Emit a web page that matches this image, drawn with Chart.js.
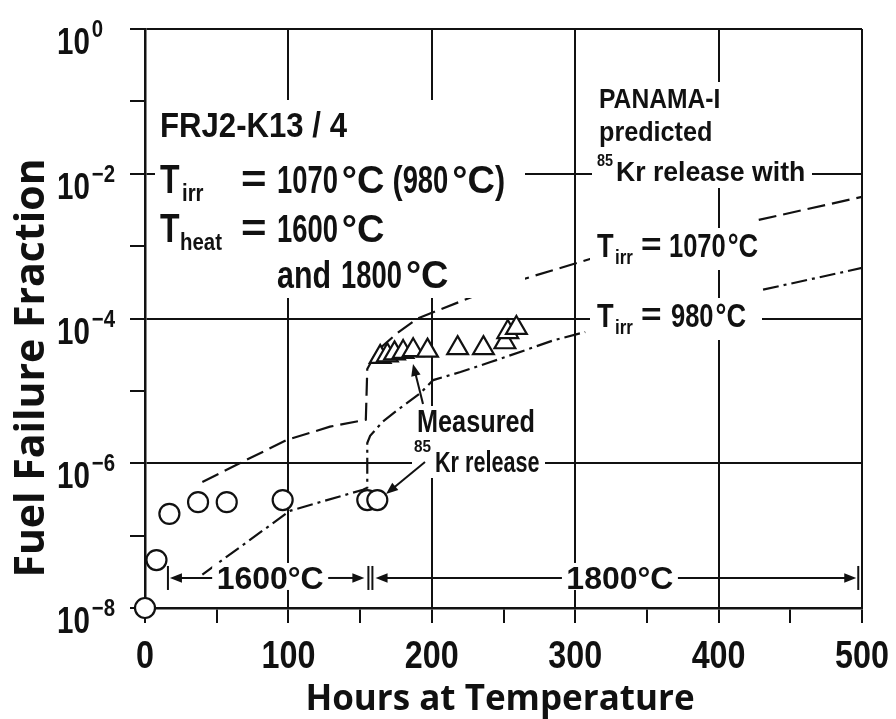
<!DOCTYPE html>
<html>
<head>
<meta charset="utf-8">
<title>FRJ2-K13/4 fuel failure fraction</title>
<script src="https://cdn.jsdelivr.net/npm/chart.js@4"></script>
<style>
  html, body { margin: 0; padding: 0; background: #fff; }
  canvas { display: block; }
</style>
</head>
<body>
<canvas id="chart" width="896" height="719"></canvas>
<script>
// measured 85Kr release (circles: 1600°C, triangles: 1800°C)
const circleHours = [0, 8, 17, 37, 57, 96, 155, 162];
const circleFrac  = [1.0e-8, 4.6e-8, 2.0e-7, 2.9e-7, 2.9e-7, 3.1e-7, 3.1e-7, 3.1e-7];
const triHours = [164, 169, 174, 180, 187, 197, 218, 236, 251, 253, 259];
const triFrac  = [2.95e-5, 3.1e-5, 3.3e-5, 3.45e-5, 3.65e-5, 3.6e-5, 3.9e-5, 3.9e-5, 4.7e-5, 6.5e-5, 7.4e-5];

// PANAMA-I predictions (null = break where the label sits)
const pred1070Hours = [40, 66, 99, 129, 154, 155, 162, 176, 190, 245, 312, 370, 428, 500];
const pred1070Frac  = [5.5e-7, 1.0e-6, 2.1e-6, 3.2e-6, 4.0e-6, 2.0e-5, 3.6e-5, 6.3e-5, 1.0e-4, 2.7e-4, 6.8e-4, null, 2.3e-3, 4.8e-3];
const pred980Hours = [40, 101, 152, 155, 155, 157, 166, 176, 192, 201, 220, 241, 266, 285, 307, 370, 431, 500];
const pred980Frac  = [2.9e-8, 2.2e-7, 4.3e-7, 4.6e-7, 1.9e-6, 2.4e-6, 3.8e-6, 5.4e-6, 9.3e-6, 1.41e-5, 1.82e-5, 2.5e-5, 3.7e-5, 5.0e-5, 6.5e-5, null, 2.5e-4, 5.0e-4];

// axes
const xTickLabels = [0, 100, 200, 300, 400, 500];
const yTickExps = [0, -1, -2, -3, -4, -5, -6, -7, -8];
const yLabelExps = [0, -2, -4, -6, -8];

// heating phases (hours)
const phase1600 = [16, 153];
const phase1800 = [158, 496];
const phaseLevel = 2.6e-8;

const INK = '#111';
const FONT = '"Liberation Sans", Arial, sans-serif';

function pts(xs, ys) {
    return xs.map((x, i) => ({ x: x, y: ys[i] }));
}

// draws bold text squeezed horizontally by sx, returns right edge
function put(ctx, s, x, y, size, sx, align) {
    ctx.save();
    ctx.font = 'bold ' + size + 'px ' + FONT;
    ctx.fillStyle = INK;
    ctx.textAlign = 'left';
    ctx.textBaseline = 'alphabetic';
    const w = ctx.measureText(s).width * sx;
    let x0 = x;
    if (align === 'center') x0 = x - w / 2;
    if (align === 'right') x0 = x - w;
    ctx.translate(x0, y);
    ctx.scale(sx, 1);
    ctx.fillText(s, 0, 0);
    ctx.restore();
    return x0 + w;
}

function temp(ctx, num, x, y, size, sxNum, sxDeg, gap) {
    const e = put(ctx, num, x, y, size, sxNum);
    return put(ctx, '°C', e + gap, y, size, sxDeg);
}

function blank(ctx, x1, y1, x2, y2) {
    ctx.fillStyle = '#fff';
    ctx.fillRect(x1, y1, x2 - x1, y2 - y1);
}

function arrow(ctx, x1, y1, x2, y2, head) {
    const a = Math.atan2(y2 - y1, x2 - x1);
    ctx.save();
    ctx.strokeStyle = INK;
    ctx.fillStyle = INK;
    ctx.lineWidth = 2;
    ctx.beginPath();
    ctx.moveTo(x1, y1);
    ctx.lineTo(x2 - Math.cos(a) * head * 0.8, y2 - Math.sin(a) * head * 0.8);
    ctx.stroke();
    ctx.beginPath();
    ctx.moveTo(x2, y2);
    ctx.lineTo(x2 - Math.cos(a) * head + Math.sin(a) * head * 0.4, y2 - Math.sin(a) * head - Math.cos(a) * head * 0.4);
    ctx.lineTo(x2 - Math.cos(a) * head - Math.sin(a) * head * 0.4, y2 - Math.sin(a) * head + Math.cos(a) * head * 0.4);
    ctx.closePath();
    ctx.fill();
    ctx.restore();
}

function vbar(ctx, x, y, h) {
    ctx.save();
    ctx.strokeStyle = INK;
    ctx.lineWidth = 2;
    ctx.beginPath();
    ctx.moveTo(x, y - h);
    ctx.lineTo(x, y + h);
    ctx.stroke();
    ctx.restore();
}

const paperPlugin = {
    id: 'paper',
    beforeDraw(chart) {
        const ctx = chart.ctx;
        ctx.save();
        ctx.fillStyle = '#fff';
        ctx.fillRect(0, 0, chart.width, chart.height);
        ctx.restore();
    },
    afterDatasetsDraw(chart) {
        const ctx = chart.ctx;
        const xs = chart.scales.x, ys = chart.scales.y;

        // tick labels
        xTickLabels.forEach(v => {
            put(ctx, String(v), xs.getPixelForValue(v), 668, 38, 0.85, 'center');
        });
        yLabelExps.forEach(e => {
            const py = ys.getPixelForValue(Math.pow(10, e));
            const end = put(ctx, '10', 57, py + 25, 36, 0.82);
            put(ctx, e === 0 ? '0' : '\u2212' + (-e), end + 2, py + 8, 24, 0.85);
        });

        // axis titles
        ctx.save();
        ctx.fillStyle = INK;
        ctx.font = 'bold 35px "Open Sans", sans-serif';
        ctx.textAlign = 'center';
        ctx.fillText('Hours at Temperature', 500, 710);
        ctx.translate(44, 368);
        ctx.rotate(-Math.PI / 2);
        ctx.font = 'bold 41px "Open Sans", sans-serif';
        ctx.fillText('Fuel Failure Fraction', 0, 0);
        ctx.restore();

        // sample / conditions block
        blank(ctx, 155, 100, 525, 298);
        put(ctx, 'FRJ2-K13 / 4', 160, 137, 35, 0.89);
        put(ctx, 'T', 160, 193, 40, 0.8);
        put(ctx, 'irr', 182, 201, 24, 0.85);
        put(ctx, '=', 241, 192, 38, 1.15);
        let e = temp(ctx, '1070', 277, 193, 38, 0.72, 1.0, 4);
        e = put(ctx, '(', e + 8, 193, 38, 0.8);
        e = temp(ctx, '980', e, 193, 38, 0.72, 1.0, 4);
        put(ctx, ')', e, 193, 38, 0.8);
        put(ctx, 'T', 160, 242, 40, 0.8);
        put(ctx, 'heat', 180, 250, 24, 0.85);
        put(ctx, '=', 241, 241, 38, 1.15);
        temp(ctx, '1600', 277, 242, 38, 0.72, 1.0, 4);
        e = put(ctx, 'and', 277, 288, 38, 0.8);
        temp(ctx, '1800', e + 10, 288, 38, 0.72, 1.0, 4);

        // PANAMA-I block
        blank(ctx, 592, 82, 812, 188);
        put(ctx, 'PANAMA-I', 599, 108, 28, 0.88);
        put(ctx, 'predicted', 599, 141, 28, 0.9);
        put(ctx, '85', 597, 166, 16, 0.9);
        put(ctx, 'Kr release with', 616, 181, 28, 0.95);

        // curve labels
        blank(ctx, 590, 228, 766, 270);
        put(ctx, 'T', 597, 257, 34, 0.8);
        put(ctx, 'irr', 615, 264, 20, 0.85);
        put(ctx, '=', 641, 255, 32, 1.1);
        temp(ctx, '1070', 669, 257, 34, 0.75, 0.8, 2);
        blank(ctx, 590, 298, 762, 340);
        put(ctx, 'T', 597, 327, 34, 0.8);
        put(ctx, 'irr', 615, 334, 20, 0.85);
        put(ctx, '=', 641, 325, 32, 1.1);
        temp(ctx, '980', 671, 327, 34, 0.75, 0.8, 2);

        // measured label + arrows
        blank(ctx, 412, 406, 545, 478);
        put(ctx, 'Measured', 417, 432, 32, 0.79);
        put(ctx, '85', 414, 452, 17, 0.9);
        put(ctx, 'Kr release', 435, 472, 30, 0.72);
        arrow(ctx, 423, 404, 413, 364, 12);
        arrow(ctx, 425, 462, 386, 494, 12);

        // heating phase spans
        const py = ys.getPixelForValue(phaseLevel);
        const a0 = xs.getPixelForValue(phase1600[0]);
        const a1 = xs.getPixelForValue(phase1600[1]);
        const b0 = xs.getPixelForValue(phase1800[0]);
        const b1 = xs.getPixelForValue(phase1800[1]);
        const ca = xs.getPixelForValue((phase1600[0] + phase1600[1]) / 2) + 4;
        const cb = xs.getPixelForValue((phase1800[0] + phase1800[1]) / 2) + 6;
        blank(ctx, ca - 58, py - 15, ca + 58, py + 12);
        blank(ctx, cb - 58, py - 15, cb + 58, py + 12);
        put(ctx, '1600°C', ca, py + 11, 32, 1.0, 'center');
        put(ctx, '1800°C', cb, py + 11, 32, 1.0, 'center');
        vbar(ctx, a0, py, 12);
        arrow(ctx, ca - 58, py, a0 + 2, py, 12);
        arrow(ctx, ca + 58, py, a1, py, 12);
        vbar(ctx, a1 + 4, py, 12);
        vbar(ctx, a1 + 8, py, 12);
        arrow(ctx, cb - 58, py, b0 + 4, py, 12);
        arrow(ctx, cb + 58, py, b1, py, 12);
        vbar(ctx, b1 + 2, py, 12);
    }
};

const ctx = document.getElementById('chart').getContext('2d');
const chart = new Chart(ctx, {
    type: 'scatter',
    data: {
        datasets: [
            {
                label: 'Measured 1600°C',
                data: pts(circleHours, circleFrac),
                pointStyle: 'circle',
                pointRadius: 10,
                borderWidth: 2.2,
                borderColor: INK,
                backgroundColor: '#fff',
                clip: false
            },
            {
                label: 'Measured 1800°C',
                data: pts(triHours, triFrac),
                pointStyle: 'triangle',
                pointRadius: 12,
                borderWidth: 2.2,
                borderColor: INK,
                backgroundColor: '#fff',
                clip: false
            },
            {
                label: 'Tirr = 1070°C',
                data: pts(pred1070Hours, pred1070Frac),
                showLine: true,
                pointRadius: 0,
                borderColor: INK,
                borderWidth: 2.2,
                borderDash: [18, 7],
                spanGaps: false,
                tension: 0
            },
            {
                label: 'Tirr = 980°C',
                data: pts(pred980Hours, pred980Frac),
                showLine: true,
                pointRadius: 0,
                borderColor: INK,
                borderWidth: 2.2,
                borderDash: [16, 5, 3, 5],
                spanGaps: false,
                tension: 0
            }
        ]
    },
    options: {
        responsive: false,
        animation: false,
        events: [],
        layout: { padding: { top: 29, right: 34, left: 0, bottom: 0 } },
        plugins: {
            legend: { display: false },
            tooltip: { enabled: false }
        },
        scales: {
            x: {
                type: 'linear',
                min: 0,
                max: 500,
                ticks: { stepSize: 50, display: false, autoSkip: false },
                grid: {
                    color: c => (c.tick && c.tick.value % 100 === 0) ? INK : 'rgba(0,0,0,0)',
                    lineWidth: 2,
                    tickColor: INK,
                    tickLength: 15,
                    tickWidth: 2
                },
                border: { color: INK, width: 2.5 },
                afterFit: s => { s.height = 111; }
            },
            y: {
                type: 'logarithmic',
                min: 1e-8,
                max: 1,
                afterBuildTicks: s => {
                    s.ticks = yTickExps.map(e => ({ value: Math.pow(10, e) }));
                },
                ticks: { display: false },
                grid: {
                    color: c => {
                        if (!c.tick) return 'rgba(0,0,0,0)';
                        const e = Math.round(Math.log10(c.tick.value));
                        return e % 2 === 0 ? INK : 'rgba(0,0,0,0)';
                    },
                    lineWidth: 2,
                    tickColor: INK,
                    tickLength: 15,
                    tickWidth: 2
                },
                border: { color: INK, width: 2.5 },
                afterFit: s => { s.width = 145; }
            }
        }
    },
    plugins: [paperPlugin]
});
</script>
</body>
</html>
